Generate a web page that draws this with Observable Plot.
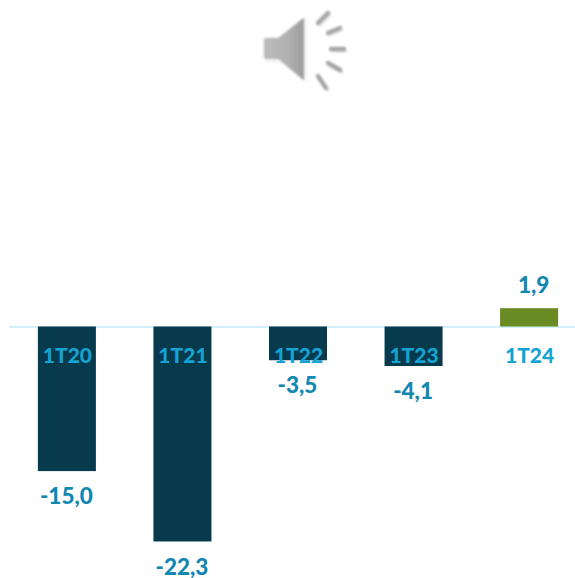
<!DOCTYPE html>
<html>
<head>
<meta charset="utf-8">
<style>
html,body{margin:0;padding:0;background:#fff;}
#wrap{position:relative;width:575px;height:578px;overflow:hidden;}
#wrap > svg{display:block;}
#icon{position:absolute;left:255px;top:5px;}
</style>
<script src="https://cdn.jsdelivr.net/npm/d3@7"></script>
<script src="https://cdn.jsdelivr.net/npm/@observablehq/plot@0.6"></script>
</head>
<body>
<div id="wrap">
<svg id="icon" width="100" height="92" viewBox="0 0 100 92">
  <defs>
    <linearGradient id="g" x1="0" x2="1" y1="0" y2="0">
      <stop offset="0" stop-color="#bcbcbc"/><stop offset="0.6" stop-color="#b0b0b0"/><stop offset="1" stop-color="#9c9c9c"/>
    </linearGradient>
    <filter id="s" x="-20%" y="-20%" width="140%" height="140%">
      <feGaussianBlur stdDeviation="0.8"/>
    </filter>
  </defs>
  <g filter="url(#s)">
    <g transform="translate(1.5,2)" opacity="0.35" fill="#bbb" stroke="#bbb" stroke-width="4" stroke-linecap="round">
      <path d="M9 32 L23 32 L50 12 L50 75 L23 55 L9 55 Z" stroke="none"/>
      <line x1="63" y1="18" x2="73" y2="8"/>
      <line x1="73" y1="28" x2="85" y2="23"/>
      <line x1="76" y1="44" x2="89" y2="44"/>
      <line x1="73" y1="58" x2="85" y2="65"/>
      <line x1="63" y1="71" x2="71" y2="83"/>
    </g>
    <path d="M11 32 Q8 32 8 35 L8 52 Q8 55 11 55 L23 55 L47 75 Q50 77 50 74 L50 14 Q50 11 47 13 L23 32 Z" fill="url(#g)" stroke="#fff" stroke-width="1.5"/>
    <g stroke="#a6a6a6" stroke-width="4.5" stroke-linecap="round">
      <line x1="63" y1="18" x2="73" y2="8"/>
      <line x1="73" y1="28" x2="85" y2="23"/>
      <line x1="76" y1="44" x2="89" y2="44"/>
      <line x1="73" y1="58" x2="85" y2="65"/>
      <line x1="63" y1="71" x2="71" y2="83"/>
    </g>
  </g>
</svg>
</div>
<script>
const categories = ["1T20", "1T21", "1T22", "1T23", "1T24"];
const values = [-15.0, -22.3, -3.5, -4.1, 1.9];
const colors = ["#063a4c", "#063a4c", "#063a4c", "#063a4c", "#6a8a24"];

const rows = categories.map((c, i) => ({c, v: values[i], col: colors[i], label: values[i].toFixed(1).replace(".", ",")}));
const font = "Lato, sans-serif";

const chart = Plot.plot({
  width: 575,
  height: 578,
  margin: 0,
  marginLeft: 9,
  style: {background: "transparent", fontFamily: font},
  x: {domain: categories, range: [9, 587], paddingInner: 0.498, paddingOuter: 0.25, round: false, axis: null},
  y: {domain: [-26.09, 33.87], range: [578, 0], axis: null},
  marks: [
    Plot.ruleY([0], {stroke: "#c3ebf8", strokeWidth: 1.3}),
    Plot.barY(rows, {x: "c", y: "v", fill: "col"}),
    Plot.text(rows, {x: "c", y: 0, text: "c", dy: 29, fill: "#15a3d4", fontSize: 21, fontWeight: 900, fontFamily: font, style: "letter-spacing:0.8px"}),
    Plot.text(rows.filter(d => d.v < 0), {x: "c", y: "v", text: "label", dy: 25.5, dx: -1, fill: "#1287b0", fontSize: 22.5, fontWeight: 900, fontFamily: font, style: "letter-spacing:0.8px"}),
    Plot.text(rows.filter(d => d.v > 0), {x: "c", y: "v", text: "label", dy: -23, dx: 4, fill: "#1287b0", fontSize: 22.5, fontWeight: 900, fontFamily: font, style: "letter-spacing:0.8px"})
  ]
});
document.getElementById("wrap").prepend(chart);
</script>
</body>
</html>
